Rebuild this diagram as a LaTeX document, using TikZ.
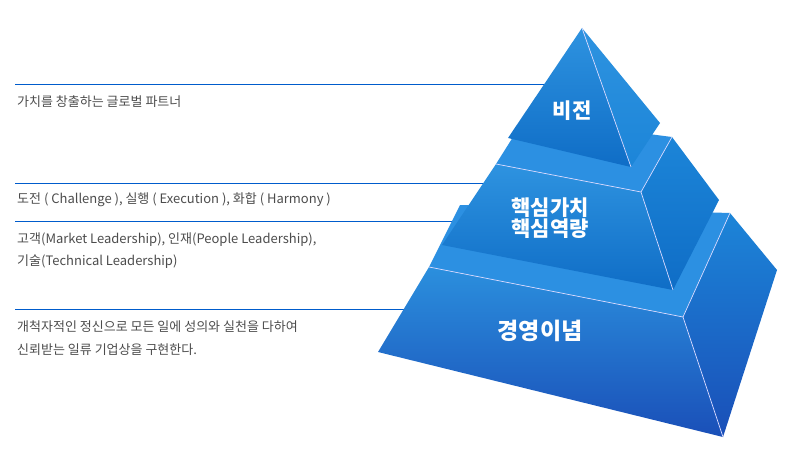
\documentclass[tikz,border=0pt]{standalone}
\usepackage{fontspec}
\setmainfont{Noto Sans CJK KR}
\begin{document}
\begin{tikzpicture}[x=1pt,y=-1pt,
  lbl/.style={anchor=west,font=\fontsize{13}{15}\selectfont,text=black!70,inner sep=0},
  guide/.style={draw=blue!55!cyan!80!black,line width=0.8pt},
  tier/.style={font=\bfseries\fontsize{21}{25}\selectfont,text=white,align=center},
  edge/.style={draw=white!85!blue,line width=0.7pt}]
\useasboundingbox (0,0) rectangle (788,452);
\definecolor{bA}{HTML}{2E93E0}
\definecolor{bB}{HTML}{0F6DC6}
\definecolor{bC}{HTML}{1A4FB8}
\definecolor{bR}{HTML}{1C85D8}
\definecolor{bT}{HTML}{2C90E2}
% guide lines
\coordinate (g1s) at (15,84); \coordinate (g1e) at (560,84);
\coordinate (g2s) at (15,183); \coordinate (g2e) at (510,183);
\coordinate (g3s) at (15,221); \coordinate (g3e) at (470,221);
\coordinate (g4s) at (15,309); \coordinate (g4e) at (410,309);
\draw[guide] (g1s) -- (g1e);
\draw[guide] (g2s) -- (g2e);
\draw[guide] (g3s) -- (g3e);
\draw[guide] (g4s) -- (g4e);
\node[lbl] (t1) at (17,102) {가치를 창출하는 글로벌 파트너};
\node[lbl] (t2) at (17,200) {도전 ( Challenge ), 실행 ( Execution ), 화합 ( Harmony )};
\node[lbl] (t3) at (17,240) {고객(Market Leadership), 인재(People Leadership),};
\node[lbl] (t4) at (17,262) {기술(Technical Leadership)};
\node[lbl] (t5) at (17,327) {개척자적인 정신으로 모든 일에 성의와 실천을 다하여};
\node[lbl] (t6) at (17,350) {신뢰받는 일류 기업상을 구현한다.};
% bottom tier
\fill[bT] (429,267) -- (683,317) -- (730,213) -- (460,205) -- cycle;
\shade[top color=bR,bottom color=bC] (683,317) -- (730,213) -- (777,270) -- (723,437) -- cycle;
\shade[top color=bA!90!bB,bottom color=bC] (429,267) -- (683,317) -- (723,437) -- (378,352) -- cycle;
\draw[edge] (429,267) -- (683,317) -- (723,437);
\draw[edge] (683,317) -- (730,213);
% middle tier
\fill[bT] (496,164) -- (641,192) -- (672,137) -- (525,118) -- cycle;
\shade[top color=bR,bottom color=bB] (641,192) -- (672,137) -- (719,200) -- (673,290) -- cycle;
\shade[top color=bA,bottom color=bB] (496,164) -- (641,192) -- (673,290) -- (442,245) -- cycle;
\draw[edge] (496,164) -- (641,192) -- (673,290);
\draw[edge] (641,192) -- (672,137);
% top tier
\shade[top color=bA,bottom color=bR] (582,28) -- (660,123) -- (631,167) -- cycle;
\shade[top color=bA,bottom color=bB] (582,28) -- (631,167) -- (508,138) -- cycle;
\draw[edge] (582,28) -- (631,167);
% labels
\node[tier] (v) at (572,111) {비전};
\node[tier] (c) at (550,218) {핵심가치\\[-4pt]핵심역량};
\node[tier,font=\bfseries\fontsize{23}{27}\selectfont] (m) at (540,331) {경영이념};
\end{tikzpicture}
\end{document}
